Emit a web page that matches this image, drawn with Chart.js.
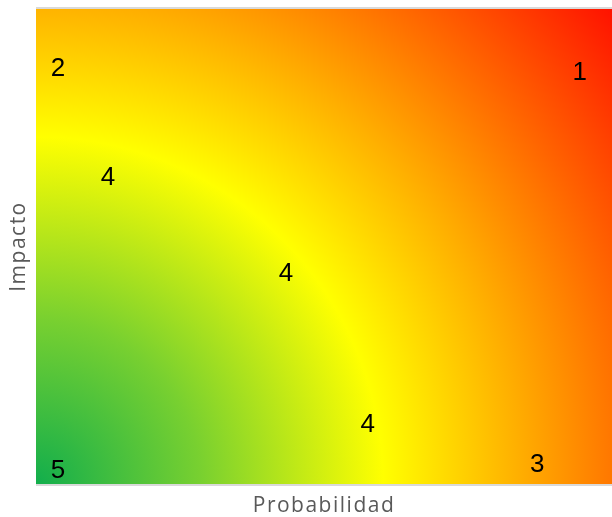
<!DOCTYPE html>
<html>
<head>
<meta charset="utf-8">
<script src="https://cdn.jsdelivr.net/npm/chart.js@4/dist/chart.umd.min.js"></script>
<style>
  html, body { margin: 0; padding: 0; background: #ffffff; }
  #wrap { width: 612px; height: 517px; }
</style>
</head>
<body>
<div id="wrap"><canvas id="c" width="612" height="517"></canvas></div>
<script>
// Risk positions on the probability / impact plane (0–10 scale)
const probabilidad = [0.38, 9.44, 1.25, 4.34, 5.76, 0.38, 8.70];
const impacto      = [8.74, 8.66, 6.45, 4.43, 1.24, 0.27, 0.40];
const etiquetas    = ['2', '1', '4', '4', '4', '5', '3'];

const xTitle = 'Probabilidad';
const yTitle = 'Impacto';

// Heat-map background: radial gradient from the low-risk corner (bottom-left)
const heatBackground = {
  id: 'heatBackground',
  beforeDraw(chart) {
    const { ctx, chartArea: a } = chart;
    const r = Math.hypot(a.right - a.left, a.bottom - a.top);
    const g = ctx.createRadialGradient(a.left, a.bottom, 0, a.left, a.bottom, r);
    g.addColorStop(0.00, 'rgb(18,174,76)');
    g.addColorStop(0.22, 'rgb(120,208,48)');
    g.addColorStop(0.465, 'rgb(255,255,0)');
    g.addColorStop(0.64, 'rgb(255,178,0)');
    g.addColorStop(0.77, 'rgb(255,120,0)');
    g.addColorStop(1.00, 'rgb(255,18,0)');
    ctx.save();
    ctx.fillStyle = g;
    ctx.fillRect(a.left, a.top, a.right - a.left, a.bottom - a.top);
    ctx.strokeStyle = '#d9d9d9';
    ctx.lineWidth = 2;
    ctx.beginPath();
    ctx.moveTo(a.left, a.top - 1);
    ctx.lineTo(a.right, a.top - 1);
    ctx.moveTo(a.left, a.bottom + 1);
    ctx.lineTo(a.right, a.bottom + 1);
    ctx.stroke();
    ctx.restore();
    // spaced lettering for the axis titles
    ctx.letterSpacing = '1.5px';
  },
  afterDraw(chart) {
    chart.ctx.letterSpacing = '0px';
  }
};

// Rank numbers written at each point
const pointLabels = {
  id: 'pointLabels',
  afterDatasetsDraw(chart) {
    const { ctx } = chart;
    const meta = chart.getDatasetMeta(0);
    ctx.save();
    ctx.letterSpacing = '0px';
    ctx.fillStyle = '#000000';
    ctx.font = '26px "Liberation Sans", Arial, sans-serif';
    ctx.textAlign = 'center';
    ctx.textBaseline = 'middle';
    meta.data.forEach((pt, i) => {
      ctx.fillText(etiquetas[i], pt.x, pt.y);
    });
    ctx.restore();
  }
};

new Chart(document.getElementById('c'), {
  type: 'scatter',
  data: {
    datasets: [{
      data: probabilidad.map((x, i) => ({ x, y: impacto[i] })),
      pointRadius: 0,
      pointHoverRadius: 0
    }]
  },
  options: {
    responsive: false,
    animation: false,
    layout: { padding: { top: 9, right: 0, left: 0, bottom: 0 } },
    plugins: { legend: { display: false }, tooltip: { enabled: false } },
    scales: {
      x: {
        min: 0, max: 10,
        grid: { display: false },
        border: { display: false },
        ticks: { display: false },
        title: {
          display: true, text: xTitle, color: '#595959',
          font: { family: '"Open Sans", sans-serif', size: 21 },
          padding: { top: 0, bottom: -2 }
        },
        afterFit(scale) { scale.height = 33; }
      },
      y: {
        min: 0, max: 10,
        grid: { display: false },
        border: { display: false },
        ticks: { display: false },
        title: {
          display: true, text: yTitle, color: '#595959',
          font: { family: '"Open Sans", sans-serif', size: 21 },
          padding: { top: 6, bottom: 0 }
        },
        afterFit(scale) { scale.width = 36; }
      }
    }
  },
  plugins: [heatBackground, pointLabels]
});
</script>
</body>
</html>
